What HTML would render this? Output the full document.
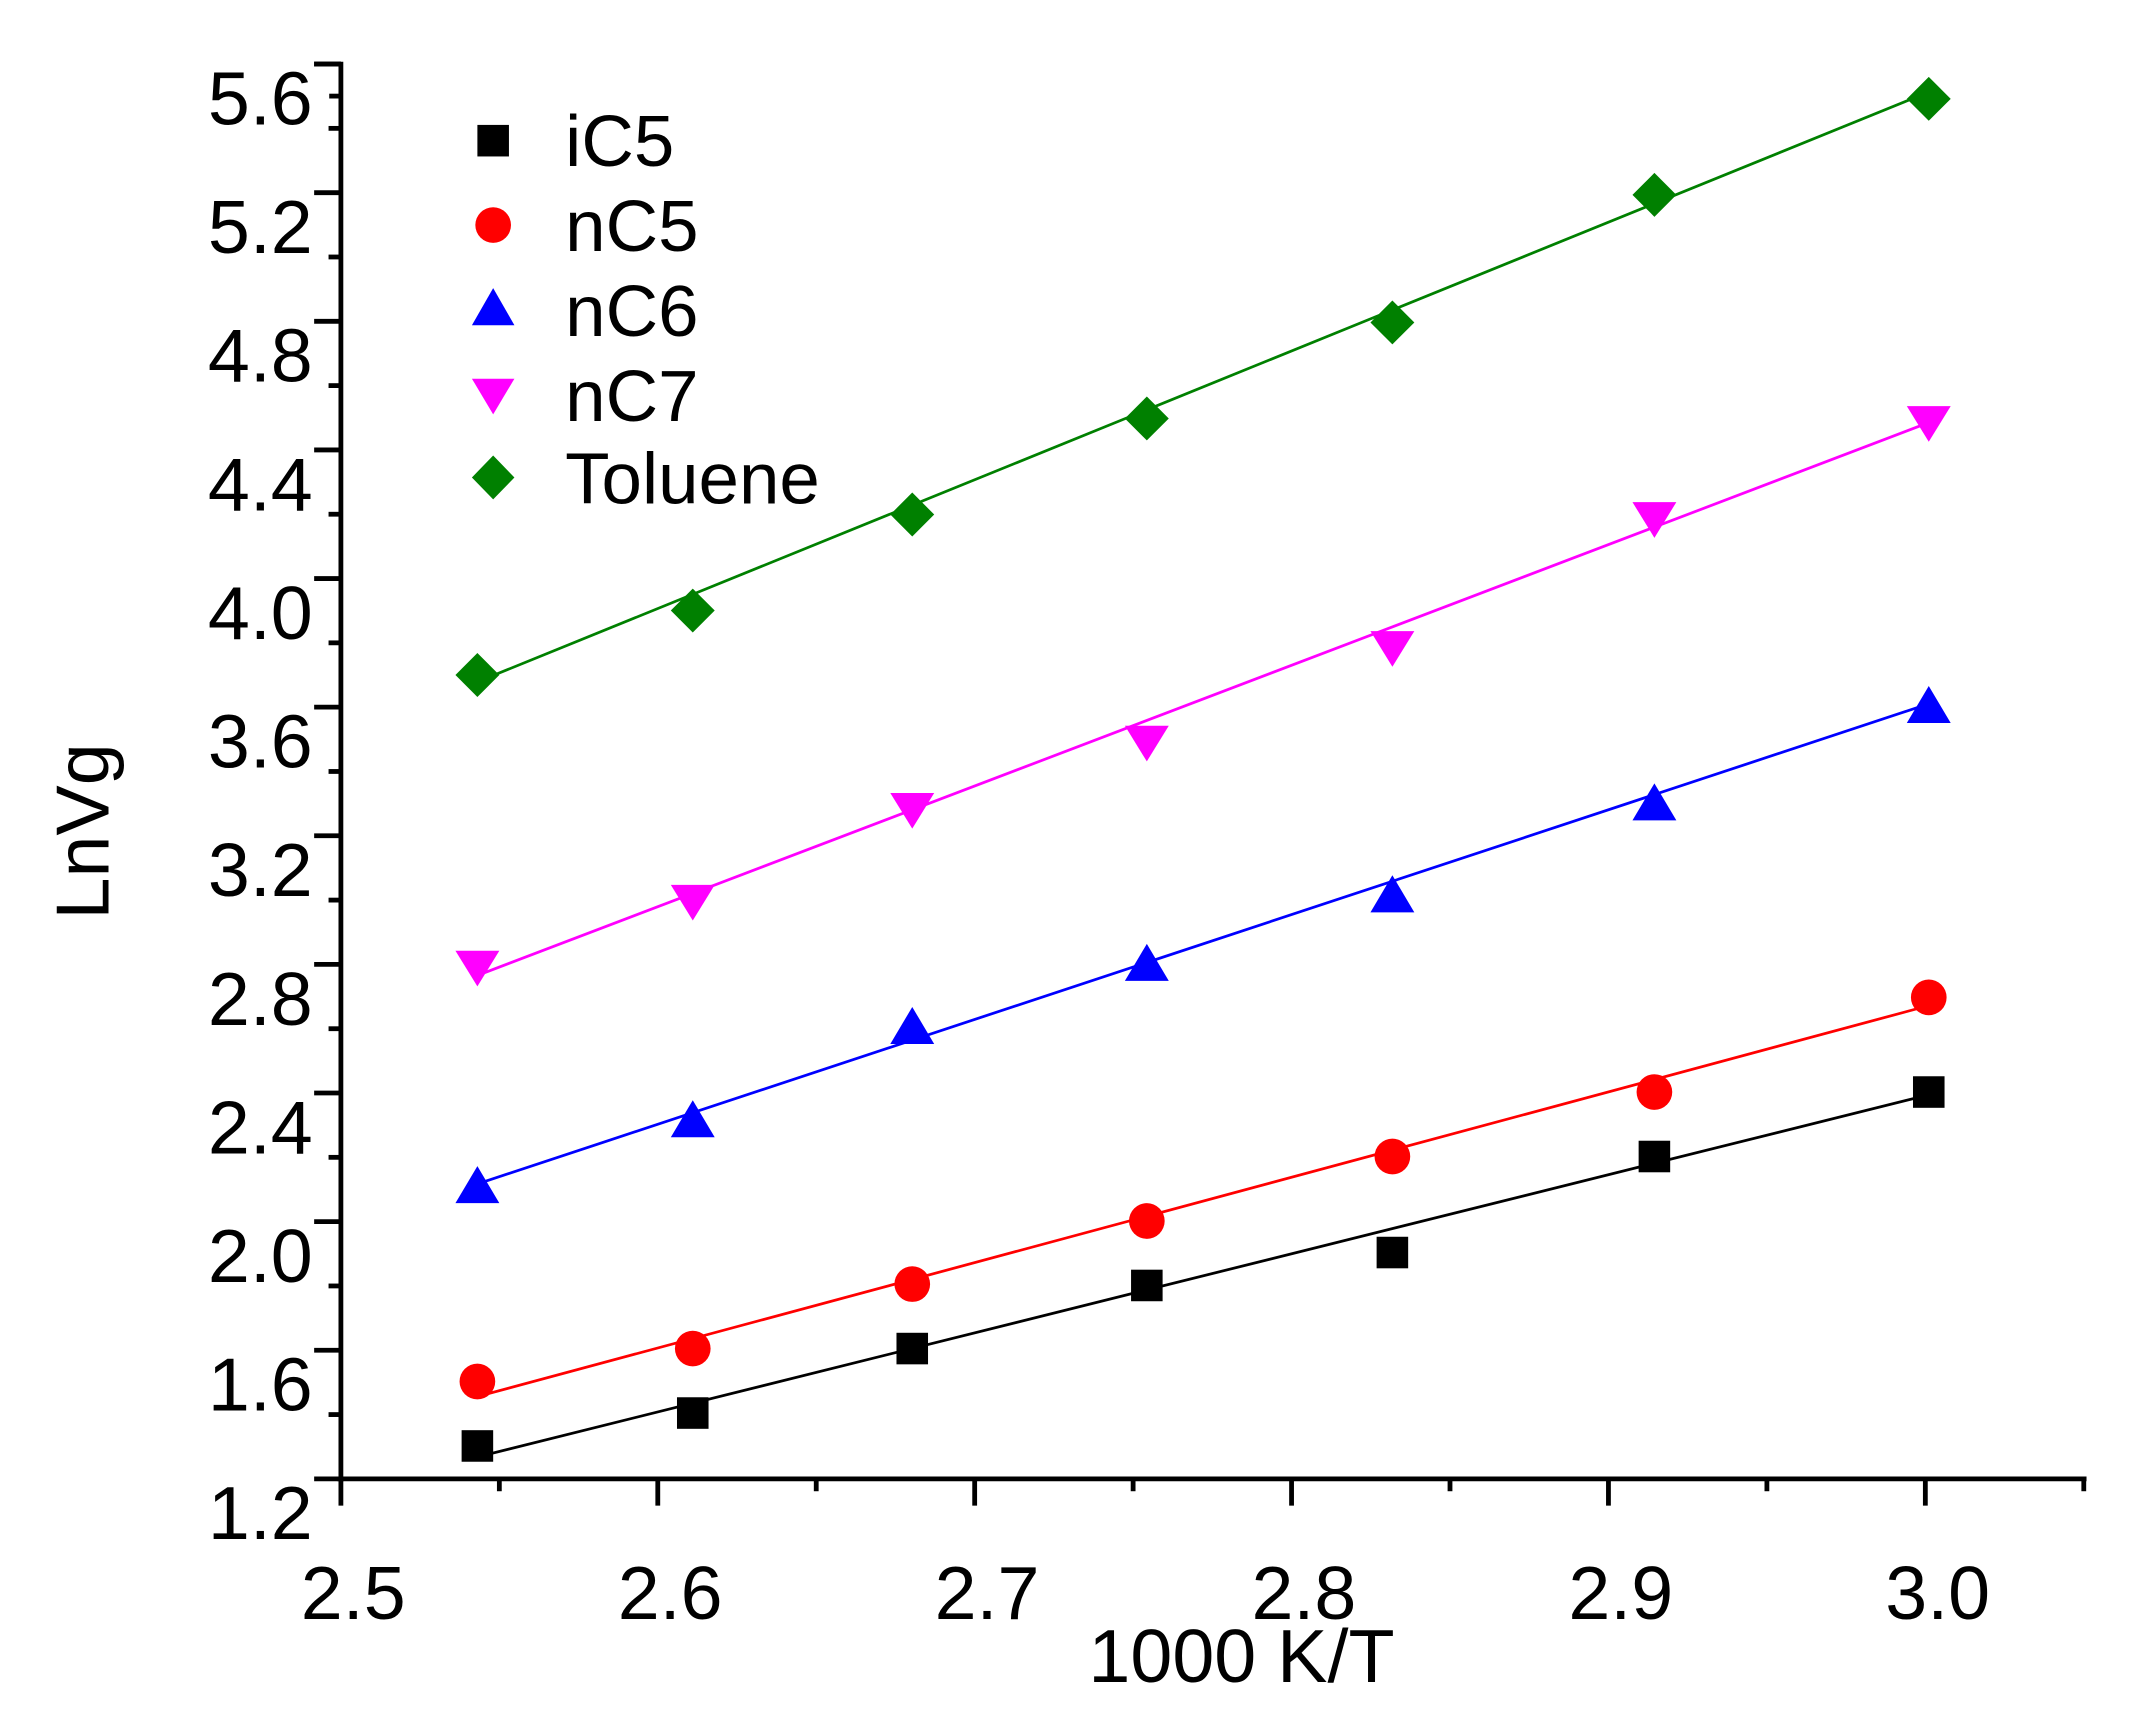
<!DOCTYPE html>
<html><head><meta charset="utf-8"><style>html,body{margin:0;padding:0;background:#fff}svg{display:block}</style></head>
<body>
<svg width="2151" height="1730" viewBox="0 0 1568 1261" xmlns="http://www.w3.org/2000/svg" font-family="Liberation Sans, Arial, sans-serif">
<rect width="1568" height="1261" fill="#fff"/>
<g stroke="#000" stroke-width="3.5" fill="none">
<line x1="248.5" y1="45" x2="248.5" y2="1080"/>
<line x1="246" y1="1078" x2="1521" y2="1078"/>
<line x1="229" y1="46.6" x2="248.5" y2="46.6"/>
<line x1="240" y1="70" x2="248.5" y2="70"/>
<line x1="229" y1="93.5" x2="248.5" y2="93.5" visibility="hidden"/>
</g>
<g id="yt" stroke="#000" stroke-width="3.5"></g>
<g id="xt" stroke="#000" stroke-width="3.5"></g>
<g id="yl" font-size="55" text-anchor="end"></g>
<g id="xl" font-size="55" text-anchor="middle"></g>
<text x="905" y="1226" font-size="55" text-anchor="middle">1000 K/T</text>
<text transform="translate(79,606) rotate(-90)" font-size="55" text-anchor="middle">LnVg</text>
<g stroke-width="2" fill="none">
<line x1="348" y1="497" x2="1406" y2="67" stroke="#008000"/>
<line x1="348" y1="711" x2="1406" y2="308" stroke="#ff00ff"/>
<line x1="348" y1="863" x2="1406" y2="513" stroke="#0000ff"/>
<line x1="348" y1="1018" x2="1406" y2="733" stroke="#ff0000"/>
<line x1="348" y1="1062" x2="1406" y2="798" stroke="#000"/>
</g>
<g id="pts"></g>
<g font-size="53">
<rect x="348" y="91" width="23" height="23" fill="#000"/>
<text x="412" y="121">iC5</text>
<ellipse cx="359.5" cy="164" rx="13" ry="13" fill="#ff0000"/>
<text x="412" y="183">nC5</text>
<polygon points="359.5,210 375,237 344,237" fill="#0000ff"/>
<text x="412" y="245">nC6</text>
<polygon points="344,276 375,276 359.5,302" fill="#ff00ff"/>
<text x="412" y="307">nC7</text>
<polygon points="359.5,332 375,348 359.5,364 344,348" fill="#008000"/>
<text x="412" y="367">Toluene</text>
</g>
<script>
var NS="http://www.w3.org/2000/svg";
function el(p,t,a,txt){var e=document.createElementNS(NS,t);for(var k in a)e.setAttribute(k,a[k]);if(txt)e.textContent=txt;document.getElementById(p).appendChild(e);}
var y0=1078,dy=234.4;
for(var i=0;i<=22;i++){var v=1.2+i*0.2,y=y0-i*dy*0.2;var L=(i%2==0)?19.5:9;el("yt","line",{x1:248.5-L,y1:y,x2:248.5,y2:y});
if(i%2==0)el("yl","text",{x:228,y:y+44},v.toFixed(1));}
for(var j=0;j<=11;j++){var x=248.5+j*115.5;var L=(j%2==0)?19.5:9;el("xt","line",{x1:x,y1:1078,x2:x,y2:1078+L});
if(j%2==0&&j<=10)el("xl","text",{x:x+9,y:1180},(2.5+j*0.05).toFixed(1));}
var xs=[348,505,665,836,1015,1206,1406];
var d={
tol:[492,445,375,305,235,142,72],
c7:[705,657,590,541,472,378,308],
c6:[864,816,748,702,652,585,514],
c5:[1007,983,936,890,843,796,727],
i5:[1054,1030,983,937,913,843,796]};
for(var k=0;k<7;k++){var x=xs[k],y;
y=d.i5[k];el("pts","rect",{x:x-11.5,y:y-11.5,width:23,height:23,fill:"#000"});
y=d.c5[k];el("pts","ellipse",{cx:x,cy:y,rx:13,ry:13,fill:"#ff0000"});
y=d.c6[k];el("pts","polygon",{points:(x)+","+(y-14)+" "+(x+16)+","+(y+13)+" "+(x-16)+","+(y+13),fill:"#0000ff"});
y=d.c7[k];el("pts","polygon",{points:(x-16)+","+(y-12)+" "+(x+16)+","+(y-12)+" "+x+","+(y+14),fill:"#ff00ff"});
y=d.tol[k];el("pts","polygon",{points:x+","+(y-16)+" "+(x+16)+","+y+" "+x+","+(y+16)+" "+(x-16)+","+y,fill:"#008000"});}
</script>
</svg>
</body></html>
